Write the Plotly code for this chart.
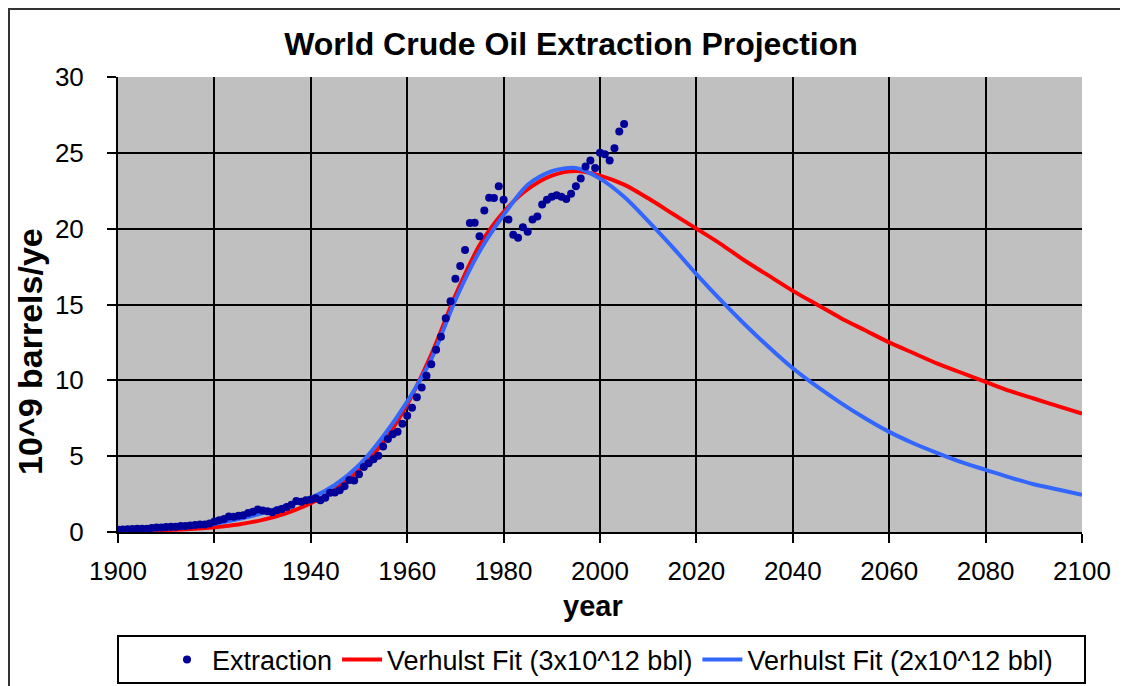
import plotly.graph_objects as go

# yearly world crude extraction, 10^9 barrels/year
ext_years = list(range(1900, 2006))
ext_values = [
    0.15, 0.17, 0.18, 0.19, 0.22, 0.22, 0.21, 0.26, 0.29, 0.30,
    0.33, 0.34, 0.35, 0.39, 0.40, 0.43, 0.46, 0.50, 0.50, 0.56,
    0.69, 0.77, 0.86, 1.02, 1.01, 1.07, 1.10, 1.26, 1.33, 1.49,
    1.41, 1.37, 1.31, 1.44, 1.52, 1.65, 1.79, 2.04, 1.99, 2.09,
    2.15, 2.22, 2.09, 2.26, 2.59, 2.60, 2.75, 3.02, 3.43, 3.40,
    3.80, 4.28, 4.53, 4.80, 5.02, 5.63, 6.13, 6.44, 6.61, 7.13,
    7.67, 8.19, 8.88, 9.53, 10.31, 11.06, 12.02, 12.88, 14.10, 15.22,
    16.69, 17.54, 18.60, 20.37, 20.39, 19.50, 21.19, 22.04, 22.02, 22.80,
    21.90, 20.60, 19.60, 19.40, 20.10, 19.80, 20.60, 20.80, 21.60, 21.90,
    22.10, 22.20, 22.10, 21.95, 22.30, 22.80, 23.30, 24.10, 24.50, 24.00,
    25.00, 24.90, 24.50, 25.30, 26.40, 26.90,
]

# Verhulst fits, sampled every 5 years
fit_years = list(range(1900, 2101, 5))
fit_3t = [
    0.05, 0.08, 0.13, 0.20, 0.32, 0.50, 0.80, 1.25, 1.90, 2.80,
    4.10, 5.90, 8.40, 11.70, 15.60, 18.90, 21.10, 22.60, 23.50, 23.80,
    23.50, 22.90, 22.00, 21.00, 20.00, 19.00, 17.90, 16.90, 15.90, 15.00,
    14.10, 13.30, 12.50, 11.80, 11.10, 10.50, 9.90, 9.30, 8.80, 8.30,
    7.80,
]
fit_2t = [
    0.10, 0.15, 0.22, 0.35, 0.55, 0.85, 1.25, 1.75, 2.25, 3.10,
    4.40, 6.30, 8.60, 11.40, 15.30, 18.50, 20.90, 22.90, 23.80, 24.00,
    23.30, 22.10, 20.50, 18.80, 17.00, 15.30, 13.70, 12.20, 10.80, 9.60,
    8.50, 7.50, 6.60, 5.85, 5.20, 4.60, 4.10, 3.60, 3.15, 2.80,
    2.45,
]

FONT = "Arial, Liberation Sans, sans-serif"

# the page body adds an 8px margin; positions below are screen pixels
OFF = 8
W, H = 1128 - OFF, 686 - OFF
L, R, T, B = 118 - OFF, 1082 - OFF, 77 - OFF, 532 - OFF


def px(x):
    return (x - OFF - L) / (R - L)


def py(y):
    return (B - (y - OFF)) / (B - T)


fig = go.Figure()

fig.add_trace(go.Scatter(
    x=fit_years, y=fit_3t, mode="lines", name="Verhulst Fit (3x10^12 bbl)",
    line=dict(color="#ff0000", width=4, shape="spline", smoothing=0.8),
    legendrank=2,
))
fig.add_trace(go.Scatter(
    x=fit_years, y=fit_2t, mode="lines", name="Verhulst Fit (2x10^12 bbl)",
    line=dict(color="#3366ff", width=4, shape="spline", smoothing=0.8),
    legendrank=3,
))
fig.add_trace(go.Scatter(
    x=ext_years, y=ext_values, mode="markers", name="Extraction",
    marker=dict(color="#000099", size=8, symbol="circle"), legendrank=1,
))

fig.update_layout(
    width=W, height=H,
    margin=dict(l=L, r=W - R, t=T, b=H - B),
    paper_bgcolor="white",
    plot_bgcolor="#c0c0c0",
    font=dict(family=FONT, color="black"),
    title=dict(
        text="<b>World Crude Oil Extraction Projection</b>",
        font=dict(size=32, family=FONT, color="black"),
        x=(571 - OFF) / W, xanchor="center", xref="container",
        y=1 - (44 - OFF) / H, yanchor="middle", yref="container",
    ),
    showlegend=True,
    legend=dict(
        orientation="h",
        xref="container", yref="container",
        x=(610 - OFF) / W, xanchor="center",
        y=1 - (660 - OFF) / H, yanchor="middle",
        bgcolor="rgba(0,0,0,0)",
        font=dict(size=27, family=FONT),
        itemwidth=40,
    ),
)

fig.update_xaxes(
    range=[1900, 2100], tick0=1900, dtick=20,
    showgrid=True, gridcolor="black", gridwidth=2,
    showline=True, linecolor="black", linewidth=2,
    ticks="outside", ticklen=9, tickwidth=2, tickcolor="black",
    ticklabelstandoff=6,
    tickfont=dict(size=26, family=FONT),
    zeroline=False,
)
fig.update_yaxes(
    range=[0, 30], tick0=0, dtick=5,
    showgrid=True, gridcolor="black", gridwidth=2,
    showline=True, linecolor="black", linewidth=2,
    ticks="outside", ticklen=9, tickwidth=2, tickcolor="black",
    ticklabelstandoff=18,
    tickfont=dict(size=26, family=FONT),
    zeroline=False,
)

fig.add_annotation(
    text="<b>10^9 barrels/ye</b>", textangle=-90,
    xref="paper", yref="paper", x=px(30), y=py(352),
    xanchor="center", yanchor="middle", showarrow=False,
    font=dict(size=34, family=FONT),
)
fig.add_annotation(
    text="<b>year</b>",
    xref="paper", yref="paper", x=px(593), y=py(606),
    xanchor="center", yanchor="middle", showarrow=False,
    font=dict(size=29, family=FONT),
)

# legend frame
fig.add_shape(
    type="rect", xref="paper", yref="paper",
    x0=px(118), x1=px(1085), y0=py(636), y1=py(683),
    line=dict(color="black", width=2),
)
# chart frame: only its left and top edges fall inside the window
fig.add_shape(
    type="path", xref="paper", yref="paper",
    path=f"M {px(9)},{py(700)} L {px(9)},{py(9)} L {px(1128)},{py(9)}",
    line=dict(color="#333333", width=2),
)

fig.write_html("out.html")
